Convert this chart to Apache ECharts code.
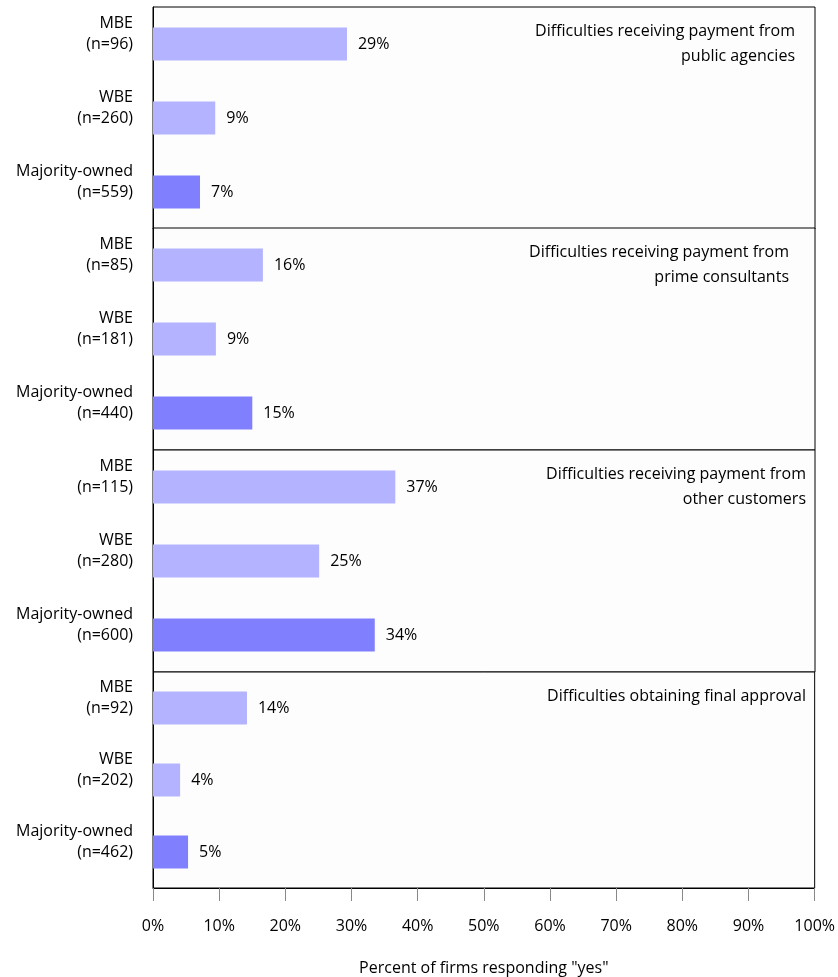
<!DOCTYPE html>
<html>
<head>
<meta charset="utf-8">
<script src="https://cdn.jsdelivr.net/npm/echarts@6/dist/echarts.min.js"></script>
<style>
  html, body { margin: 0; padding: 0; background: #fff; }
  #chart { width: 838px; height: 977px; }
</style>
</head>
<body>
<div id="chart"></div>
<script>
// 面板标题
var panelTitles = [
  'Difficulties receiving payment from\npublic agencies',
  'Difficulties receiving payment from\nprime consultants',
  'Difficulties receiving payment from\nother customers',
  'Difficulties obtaining final approval'
]
var groups = ['MBE', 'WBE', 'Majority-owned']
var sampleSizes = [
  [96, 260, 559],
  [85, 181, 440],
  [115, 280, 600],
  [92, 202, 462]
]
// 柱子数值（百分比）
var barValues = [
  [29.3, 9.4, 7.1],
  [16.6, 9.5, 15.0],
  [36.6, 25.1, 33.5],
  [14.2, 4.1, 5.3]
]
// 图上标注的百分比
var barLabels = [
  [29, 9, 7],
  [16, 9, 15],
  [37, 25, 34],
  [14, 4, 5]
]
var xTicks = [0, 10, 20, 30, 40, 50, 60, 70, 80, 90, 100]

var FONT = 'Open Sans'
var colors = ['#B3B3FF', '#B3B3FF', '#8080FF']
var panelTop = [7, 228, 450, 672]
var panelH = 222
var titleRightX = [790, 784, 801, 801] // 标题右边缘

var grids = [], xAxes = [], yAxes = [], series = [], titles = []
panelTitles.forEach(function(t, i) {
  grids.push({
    left: 153, right: 23, top: panelTop[i], height: panelH,
    show: true, borderColor: '#000', borderWidth: 1, backgroundColor: '#FDFDFD'
  })
  var last = i === panelTitles.length - 1
  xAxes.push({
    type: 'value', gridIndex: i, min: 0, max: 100, interval: 10,
    splitLine: { show: false },
    axisLine: { show: last, lineStyle: { color: '#000' } },
    axisTick: { show: last, length: 13, lineStyle: { color: '#888' } },
    axisLabel: {
      show: last, margin: 30, color: '#000', fontFamily: FONT, fontSize: 16,
      formatter: function(v) { return v + '%' }
    },
    name: last ? 'Percent of firms responding "yes"' : '',
    nameLocation: 'middle', nameGap: 72,
    nameTextStyle: { color: '#000', fontFamily: FONT, fontSize: 16 }
  })
  yAxes.push({
    type: 'category', gridIndex: i, inverse: true,
    data: groups.map(function(g, j) { return g + '\n(n=' + sampleSizes[i][j] + ')' }),
    axisLine: { show: true, lineStyle: { color: '#000' } },
    axisTick: { show: false },
    axisLabel: {
      color: '#000', fontFamily: FONT, fontSize: 16, lineHeight: 21, margin: 20, align: 'right',
      formatter: function(v) { return v + '\n ' } // 标签略高于柱子中心
    }
  })
  series.push({
    type: 'bar', xAxisIndex: i, yAxisIndex: i,
    barWidth: 33,
    data: barValues[i].map(function(v, j) {
      return { value: v, itemStyle: { color: colors[j] } }
    }),
    label: {
      show: true, position: 'right', distance: 11,
      color: '#000', fontFamily: FONT, fontSize: 16,
      formatter: function(p) { return barLabels[i][p.dataIndex] + '%' }
    }
  })
  titles.push({
    text: t, left: titleRightX[i], top: panelTop[i] + 7, textAlign: 'right',
    textStyle: { color: '#000', fontFamily: FONT, fontSize: 16, fontWeight: 'normal', lineHeight: 25 }
  })
})

var myChart = echarts.init(document.getElementById('chart'))
myChart.setOption({
  animation: false,
  backgroundColor: '#fff',
  title: titles,
  grid: grids,
  xAxis: xAxes,
  yAxis: yAxes,
  series: series
})
</script>
</body>
</html>
